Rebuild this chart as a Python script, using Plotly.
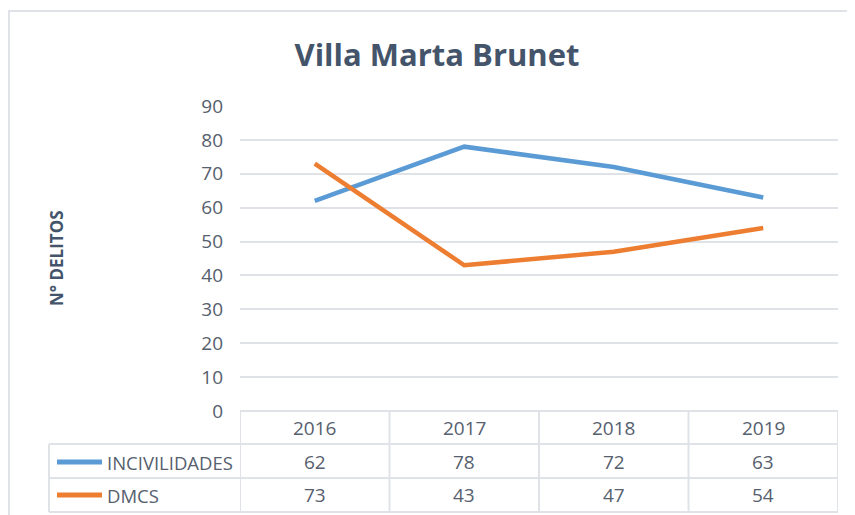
import plotly.graph_objects as go

years = ["2016", "2017", "2018", "2019"]
incivilidades = [62, 78, 72, 63]
dmcs = [73, 43, 47, 54]
series_names = ["INCIVILIDADES", "DMCS"]
y_ticks = [0, 10, 20, 30, 40, 50, 60, 70, 80, 90]

# page body adds an 8px margin, so work in window pixels and shift back
OFF = 8
W, H = 855 - OFF, 515 - OFF
PLOT_L, PLOT_R, PLOT_T, PLOT_B = 240 - OFF, 838 - OFF, 106 - OFF, 411 - OFF

BLUE = "#5b9bd5"
ORANGE = "#ed7d31"
GRID = "#dfe3e8"
TEXT = "#56606e"
TITLE = "#44546a"
FONT = "Open Sans"


def px_x(x):
    return (x - OFF - PLOT_L) / (PLOT_R - PLOT_L)


def px_y(y):
    return (PLOT_B - (y - OFF)) / (PLOT_B - PLOT_T)


fig = go.Figure()
fig.add_trace(go.Scatter(x=years, y=incivilidades, mode="lines", name=series_names[0],
                         line=dict(color=BLUE, width=4.5)))
fig.add_trace(go.Scatter(x=years, y=dmcs, mode="lines", name=series_names[1],
                         line=dict(color=ORANGE, width=4.5)))

fig.update_layout(
    width=W, height=H,
    margin=dict(l=PLOT_L, r=W - PLOT_R, t=PLOT_T, b=H - PLOT_B),
    paper_bgcolor="white", plot_bgcolor="white",
    showlegend=False,
    font=dict(family=FONT, color=TEXT, size=16),
    title=dict(text="<b>Villa Marta Brunet</b>", x=(437 - OFF) / W, xanchor="center",
               y=1 - (55 - OFF) / H, yanchor="middle",
               font=dict(size=31, color=TITLE, family=FONT)),
)

fig.update_xaxes(type="category", range=[-0.5, 3.5], showticklabels=False,
                 showgrid=False, zeroline=False, showline=False)
fig.update_yaxes(range=[0, 90], tickvals=y_ticks, showgrid=True, gridcolor=GRID,
                 gridwidth=2, zeroline=False, showline=False, ticks="",
                 ticklabelstandoff=16, tickfont=dict(size=19, color=TEXT))

shapes = []
line_style = dict(color=GRID, width=2)
# outer chart frame
shapes.append(dict(type="rect", xref="paper", yref="paper",
                   x0=px_x(9), x1=px_x(870), y0=px_y(530), y1=px_y(11),
                   line=line_style, layer="below"))
# table horizontal lines
shapes.append(dict(type="line", xref="paper", yref="paper",
                   x0=0, x1=1, y0=0, y1=0, line=line_style))
for yy in [444, 478, 512]:
    shapes.append(dict(type="line", xref="paper", yref="paper",
                       x0=px_x(49), x1=1, y0=px_y(yy), y1=px_y(yy), line=line_style))
# table vertical lines
shapes.append(dict(type="line", xref="paper", yref="paper",
                   x0=px_x(49), x1=px_x(49), y0=px_y(444), y1=px_y(512), line=line_style))
for i in range(len(years) + 1):
    shapes.append(dict(type="line", xref="x", yref="paper",
                       x0=i - 0.5, x1=i - 0.5, y0=0, y1=px_y(512), line=line_style))

annotations = []
for i, yr in enumerate(years):
    annotations.append(dict(x=i, xref="x", y=px_y(428), yref="paper", text=yr,
                            xanchor="center", yanchor="middle",
                            showarrow=False, font=dict(size=19, color=TEXT)))

rows = [(series_names[0], incivilidades, BLUE, 462), (series_names[1], dmcs, ORANGE, 495)]
for name, vals, color, yy in rows:
    shapes.append(dict(type="line", xref="paper", yref="paper",
                       x0=px_x(57), x1=px_x(102), y0=px_y(yy), y1=px_y(yy),
                       line=dict(color=color, width=5)))
    annotations.append(dict(x=px_x(105), xref="paper", y=px_y(yy), yref="paper",
                            text=name, xanchor="left", yanchor="middle", showarrow=False,
                            font=dict(size=18.5, color=TEXT)))
    for i, v in enumerate(vals):
        annotations.append(dict(x=i, xref="x", y=px_y(yy), yref="paper", text=str(v),
                                xanchor="center", yanchor="middle",
                                showarrow=False, font=dict(size=19, color=TEXT)))

annotations.append(dict(x=px_x(56), xref="paper", y=px_y(258), yref="paper",
                        text="<b>N° DELITOS</b>", textangle=-90, showarrow=False,
                        xanchor="center", yanchor="middle",
                        font=dict(size=17, color=TITLE)))

fig.update_layout(shapes=shapes, annotations=annotations)

fig.write_html("out.html")
